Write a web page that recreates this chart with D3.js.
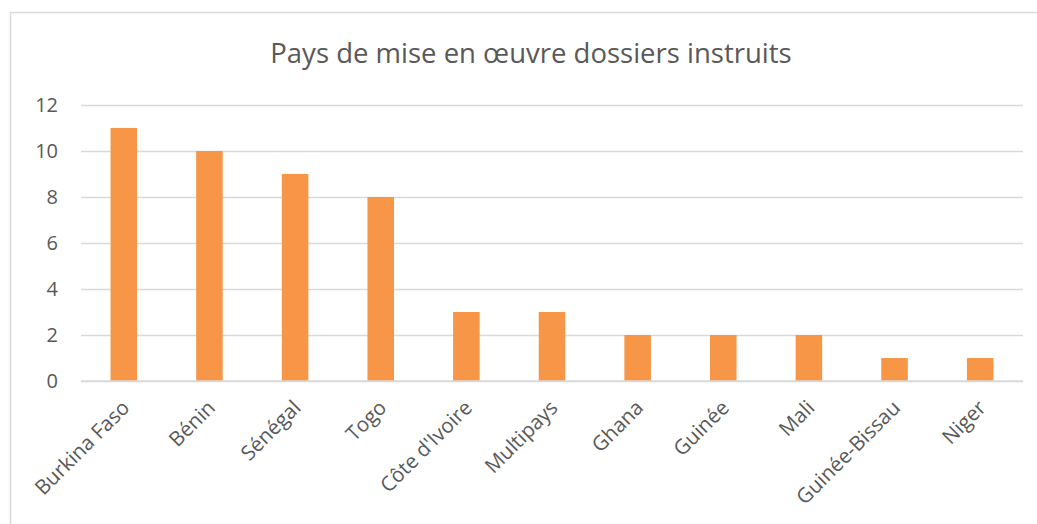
<!DOCTYPE html>
<html>
<head>
<meta charset="utf-8">
<script src="https://cdn.jsdelivr.net/npm/d3@7.9.0/dist/d3.min.js"></script>
<style>
  body { margin: 0; background: #fff; }
  text { font-family: "Open Sans", sans-serif; fill: #595959; }
</style>
</head>
<body>
<svg id="chart" width="1037" height="524"></svg>
<script>
const countries = ['Burkina Faso', 'Bénin', 'Sénégal', 'Togo', "Côte d'Ivoire", 'Multipays',
  'Ghana', 'Guinée', 'Mali', 'Guinée-Bissau', 'Niger'];
const dossiers = [11, 10, 9, 8, 3, 3, 2, 2, 2, 1, 1];
const yTicks = [0, 2, 4, 6, 8, 10, 12];

const svg = d3.select('#chart');
const margin = { top: 105, right: 14, bottom: 143, left: 81 };
const width = 1037 - margin.left - margin.right;
const height = 524 - margin.top - margin.bottom;

// chart frame
svg.append('rect')
  .attr('x', 10.5).attr('y', 12.5)
  .attr('width', 1037).attr('height', 530)
  .attr('fill', 'none').attr('stroke', '#d9d9d9').attr('stroke-width', 1.5);

svg.append('text')
  .attr('x', 531).attr('y', 63)
  .attr('text-anchor', 'middle')
  .style('font-size', '27.5px')
  .text('Pays de mise en œuvre dossiers instruits');

const g = svg.append('g').attr('transform', `translate(${margin.left},${margin.top})`);

const x = d3.scaleBand().domain(countries).range([0, width]).paddingInner(0.69).paddingOuter(0.345);
const y = d3.scaleLinear().domain([0, 12]).range([height, 0]);

g.append('g')
  .call(d3.axisLeft(y).tickValues(yTicks).tickSize(-width).tickPadding(23))
  .call(a => a.select('.domain').remove())
  .call(a => a.selectAll('line').attr('stroke', '#d9d9d9').attr('stroke-width', 1.5))
  .call(a => a.selectAll('text').style('font-size', '20px').attr('fill', '#595959'));

g.selectAll('rect.bar')
  .data(dossiers)
  .enter()
  .append('rect')
  .attr('class', 'bar')
  .attr('x', (d, i) => x(countries[i]))
  .attr('y', d => y(d))
  .attr('width', x.bandwidth())
  .attr('height', d => y(0) - y(d))
  .attr('fill', '#f79646');

g.append('line')
  .attr('x1', 0).attr('x2', width)
  .attr('y1', y(0)).attr('y2', y(0))
  .attr('stroke', '#d9d9d9').attr('stroke-width', 1.5);

g.selectAll('text.label')
  .data(countries)
  .enter()
  .append('text')
  .attr('class', 'label')
  .attr('text-anchor', 'end')
  .attr('transform', d => `translate(${x(d) + x.bandwidth() / 2 + 7},${height + 28}) rotate(-45)`)
  .style('font-size', '20.5px')
  .text(d => d);
</script>
</body>
</html>
